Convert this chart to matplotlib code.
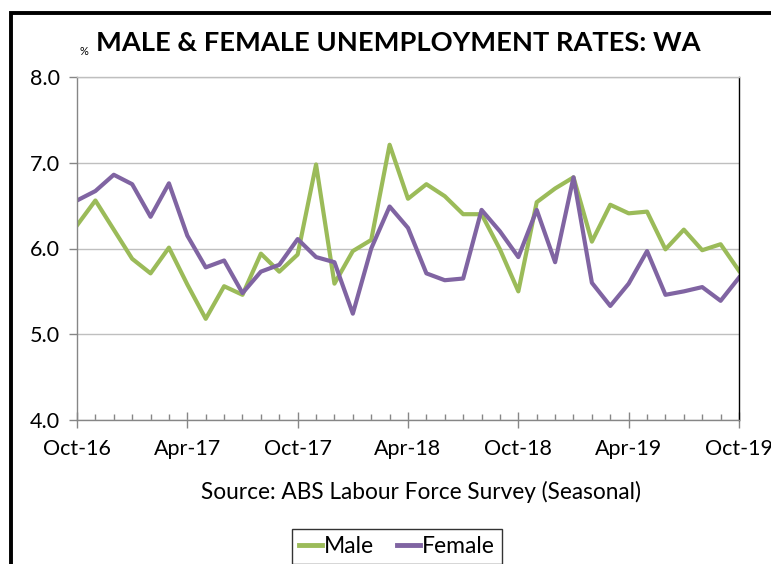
import matplotlib
matplotlib.use("Agg")
import matplotlib.pyplot as plt
from matplotlib.patches import Rectangle
from matplotlib.ticker import MultipleLocator, FixedLocator, FuncFormatter

plt.rcParams['font.family'] = ['Lato', 'DejaVu Sans']

months = ["Oct-16", "Nov-16", "Dec-16", "Jan-17", "Feb-17", "Mar-17", "Apr-17", "May-17", "Jun-17",
          "Jul-17", "Aug-17", "Sep-17", "Oct-17", "Nov-17", "Dec-17", "Jan-18", "Feb-18", "Mar-18",
          "Apr-18", "May-18", "Jun-18", "Jul-18", "Aug-18", "Sep-18", "Oct-18", "Nov-18", "Dec-18",
          "Jan-19", "Feb-19", "Mar-19", "Apr-19", "May-19", "Jun-19", "Jul-19", "Aug-19", "Sep-19",
          "Oct-19"]
male = [6.27, 6.56, 6.22, 5.88, 5.71, 6.01, 5.58, 5.18, 5.56, 5.46, 5.94, 5.73, 5.93,
        6.98, 5.59, 5.97, 6.10, 7.21, 6.58, 6.75, 6.61, 6.40, 6.40, 5.99, 5.50,
        6.54, 6.70, 6.83, 6.08, 6.51, 6.41, 6.43, 5.99, 6.22, 5.98, 6.05, 5.74]
female = [6.56, 6.67, 6.86, 6.75, 6.37, 6.76, 6.15, 5.78, 5.86, 5.48, 5.73, 5.81, 6.11,
          5.90, 5.84, 5.24, 6.00, 6.49, 6.24, 5.71, 5.63, 5.65, 6.45, 6.20, 5.90,
          6.45, 5.84, 6.83, 5.60, 5.33, 5.59, 5.97, 5.46, 5.50, 5.55, 5.39, 5.66]
tick_labels = ["Oct-16", "Apr-17", "Oct-17", "Apr-18", "Oct-18", "Apr-19", "Oct-19"]
y_ticks = [4.0, 5.0, 6.0, 7.0, 8.0]

W, H = 771, 564
fig = plt.figure(figsize=(W / 100, H / 100), dpi=100)

# outer black frame (cut off on right and bottom)
fig.patches.append(Rectangle((10.5 / W, -0.1), 1.2, 1 - 12.5 / H + 0.1,
                             transform=fig.transFigure, fill=False,
                             edgecolor='black', linewidth=2.8, zorder=0))

ax = fig.add_axes([77 / W, 1 - 420 / H, (739 - 77) / W, (420 - 77) / H])
x = list(range(len(months)))
ax.plot(x, male, color='#9BBB59', linewidth=3.0, label='Male', solid_joinstyle='round')
ax.plot(x, female, color='#8064A2', linewidth=3.0, label='Female', solid_joinstyle='round')

ax.set_xlim(0, len(months) - 1)
ax.set_ylim(4.0, 8.0)
ax.set_yticks(y_ticks)
ax.yaxis.set_major_formatter(FuncFormatter(lambda v, p: f"{v:.1f}"))
ax.grid(axis='y', color='#BFBFBF', linewidth=1.0)
ax.set_axisbelow(True)

major_pos = [months.index(t) for t in tick_labels]
ax.xaxis.set_major_locator(FixedLocator(major_pos))
ax.set_xticklabels(tick_labels)
ax.xaxis.set_minor_locator(MultipleLocator(1))

for s in ['left', 'bottom', 'top']:
    ax.spines[s].set_color('#868686')
    ax.spines[s].set_linewidth(1.0)
ax.spines['top'].set_color('#BFBFBF')
ax.spines['right'].set_color('black')
ax.spines['right'].set_linewidth(1.0)

ax.tick_params(axis='y', direction='out', length=6, width=1, color='#868686',
               labelsize=15.5, pad=6, colors='#868686', labelcolor='black')
ax.tick_params(axis='x', which='major', direction='inout', length=12, width=1,
               color='#868686', labelsize=15.5, pad=8, labelcolor='black')
ax.tick_params(axis='x', which='minor', direction='in', length=4, width=1, color='#868686')

fig.text(96 / W, 1 - 51 / H, "MALE & FEMALE UNEMPLOYMENT RATES: WA", fontsize=19.6,
         fontweight='bold', ha='left', va='baseline')
fig.text(79 / W, 1 - 55 / H, "%", fontsize=8, ha='left', va='baseline')
fig.text(421 / W, 1 - 492 / H, "Source: ABS Labour Force Survey (Seasonal)", fontsize=16.3,
         ha='center', va='center')

leg = fig.legend(loc='upper center', bbox_to_anchor=(397 / W, 1 - 529 / H), ncol=2,
                 fontsize=16.5, frameon=True, fancybox=False, handlelength=1.0,
                 handletextpad=0.1, columnspacing=1.0, borderpad=0.3, borderaxespad=0)
leg.get_frame().set_edgecolor('black')
leg.get_frame().set_linewidth(1.0)
for h in leg.get_lines():
    h.set_linewidth(3.5)

fig.savefig("out.png", dpi=100)
